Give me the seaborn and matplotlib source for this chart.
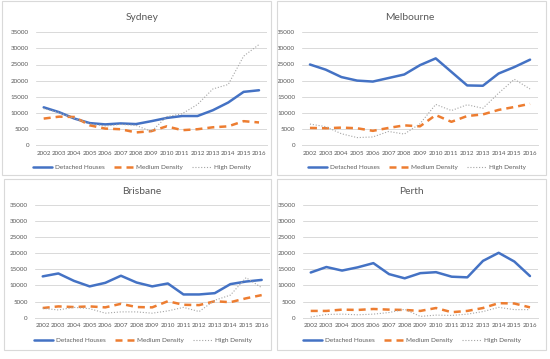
import pandas as pd
import seaborn as sns
import matplotlib.pyplot as plt
from matplotlib.patches import Rectangle

years = list(range(2002, 2017))
series_names = ['Detached Houses', 'Medium Density', 'High Density']

# values
sydney_detached = [11700, 10200, 8200, 6800, 6400, 6700, 6500, 7400, 8400, 9000, 9000, 10800, 13200, 16500, 17000]
sydney_medium = [8200, 8800, 8700, 6100, 5100, 4900, 3900, 4300, 5800, 4600, 4900, 5500, 5800, 7400, 7000]
sydney_high = [11300, 10100, 8200, 6600, 5900, 6400, 6100, 4200, 8800, 9700, 12600, 17400, 18800, 27600, 31200]

melbourne_detached = [25000, 23400, 21100, 20000, 19700, 20800, 21900, 24800, 26900, 22700, 18500, 18400, 22200, 24200, 26500]
melbourne_medium = [5300, 5200, 5400, 5200, 4400, 5300, 6100, 5800, 9300, 7200, 9000, 9500, 10900, 11800, 12800]
melbourne_high = [6500, 5700, 3500, 2300, 2500, 4200, 3400, 6600, 12600, 10700, 12500, 11400, 16100, 20400, 17400]

brisbane_detached = [12800, 13700, 11400, 9700, 10800, 13000, 10900, 9700, 10600, 7200, 7200, 7600, 10400, 11200, 11700]
brisbane_medium = [3000, 3500, 3300, 3500, 3200, 4300, 3300, 3200, 5100, 4000, 3900, 5100, 4800, 6000, 7000]
brisbane_high = [2900, 2400, 3200, 2800, 1400, 1800, 1800, 1400, 2100, 3200, 1900, 5400, 7000, 12400, 9300]

perth_detached = [14000, 15700, 14600, 15600, 16900, 13500, 12200, 13800, 14100, 12700, 12500, 17600, 20100, 17400, 12900]
perth_medium = [2100, 2100, 2500, 2400, 2700, 2500, 2400, 2100, 3000, 1700, 2100, 3000, 4500, 4400, 3200]
perth_high = [200, 1000, 1100, 900, 1100, 1600, 2600, 400, 800, 700, 1100, 1900, 3200, 2500, 2500]

cities = {
    'Sydney': [sydney_detached, sydney_medium, sydney_high],
    'Melbourne': [melbourne_detached, melbourne_medium, melbourne_high],
    'Brisbane': [brisbane_detached, brisbane_medium, brisbane_high],
    'Perth': [perth_detached, perth_medium, perth_high],
}

sns.set_theme(style='white')
plt.rcParams['font.family'] = ['Lato', 'DejaVu Sans']

W, H = 550, 359
fig = plt.figure(figsize=(W / 100, H / 100), dpi=100)

# pixel layout: (plot left, right, top, bottom), chart border box, title x/y, legend x/y
layout = {
    'Sydney':    dict(ax=(36.0, 266.7, 32.3, 145.0), box=(2, 271, 1, 175), title=(142, 18), leg=(142, 167)),
    'Melbourne': dict(ax=(302.1, 537.9, 32.3, 145.0), box=(277, 546, 1, 175), title=(410, 18), leg=(417, 167)),
    'Brisbane':  dict(ax=(34.9, 269.5, 204.7, 317.7), box=(4, 271, 179, 350), title=(142, 191), leg=(143, 340)),
    'Perth':     dict(ax=(302.9, 537.8, 204.7, 317.7), box=(277, 546, 179, 350), title=(411, 191), leg=(412, 340)),
}

palette = {'Detached Houses': '#4472C4', 'Medium Density': '#ED7D31', 'High Density': '#A5A5A5'}
dashes = {'Detached Houses': '', 'Medium Density': (2.8, 2.0), 'High Density': (1, 1.6)}
widths = {'Detached Houses': 1.8, 'Medium Density': 1.8, 'High Density': 0.8}

tick_fs = 4.5
for city, vals in cities.items():
    lay = layout[city]
    l, r, t, b = lay['ax']
    ax = fig.add_axes([l / W, 1 - b / H, (r - l) / W, (b - t) / H])

    df = pd.DataFrame({
        'year': years * 3,
        'value': vals[0] + vals[1] + vals[2],
        'type': [n for n in series_names for _ in years],
    })
    sns.lineplot(data=df, x='year', y='value', hue='type', style='type',
                 palette=palette, dashes=dashes, ax=ax, legend='full')
    for name, line in zip(series_names, ax.get_lines()):
        line.set_linewidth(widths[name])
        line.set_dash_capstyle('butt')

    ax.set_xlim(2001.5, 2016.5)
    ax.set_ylim(0, 35000)
    ax.set_xticks(years)
    ax.set_yticks(range(0, 35001, 5000))
    ax.set_xlabel('')
    ax.set_ylabel('')
    ax.yaxis.grid(True, color='#D9D9D9', lw=0.7)
    ax.xaxis.grid(False)
    for s in ['top', 'left', 'right']:
        ax.spines[s].set_visible(False)
    ax.spines['bottom'].set_color('#D9D9D9')
    ax.spines['bottom'].set_linewidth(0.7)
    ax.tick_params(axis='both', length=0, labelsize=tick_fs, labelcolor='#595959')
    ax.tick_params(axis='y', pad=5)
    ax.tick_params(axis='x', pad=4)
    ax.set_facecolor('none')

    handles, labels = ax.get_legend_handles_labels()
    for h, lb in zip(handles, labels):
        h.set_linewidth(widths.get(lb, 1.0))
    ax.legend(handles, labels, loc='center', bbox_to_anchor=(lay['leg'][0] / W, 1 - lay['leg'][1] / H),
              bbox_transform=fig.transFigure, ncol=3, frameon=False, fontsize=4.6,
              handlelength=3.0, columnspacing=1.4, handletextpad=0.5, labelcolor='#595959')

    fig.text(lay['title'][0] / W, 1 - lay['title'][1] / H, city, ha='center', va='center',
             fontsize=7.4, color='#595959')

    bl, br, bt, bb = lay['box']
    fig.patches.append(Rectangle((bl / W, 1 - bb / H), (br - bl) / W, (bb - bt) / H,
                                 transform=fig.transFigure, fill=False, edgecolor='#D9D9D9', lw=0.8))

fig.savefig('out.png', dpi=100, facecolor='white')
